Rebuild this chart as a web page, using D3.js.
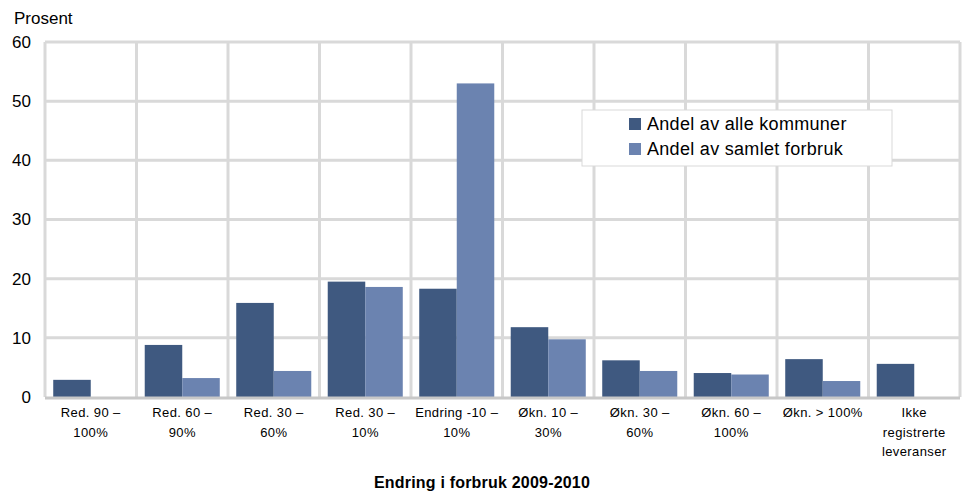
<!DOCTYPE html>
<html>
<head>
<meta charset="utf-8">
<script src="https://cdn.jsdelivr.net/npm/d3@7"></script>
<style>
body { margin: 0; background: #fff; }
text { font-family: "Liberation Sans", Arial, sans-serif; fill: #000; }
</style>
</head>
<body>
<svg id="chart" width="963" height="493"></svg>
<script>
var categories = [
  ["Red. 90 –", "100%"],
  ["Red. 60 –", "90%"],
  ["Red. 30 –", "60%"],
  ["Red. 30 –", "10%"],
  ["Endring -10 –", "10%"],
  ["Økn. 10 –", "30%"],
  ["Økn. 30 –", "60%"],
  ["Økn. 60 –", "100%"],
  ["Økn. > 100%"],
  ["Ikke", "registrerte", "leveranser"]
];
var seriesNames = ["Andel av alle kommuner", "Andel av samlet forbruk"];
var kommuner = [2.9, 8.8, 15.9, 19.5, 18.3, 11.8, 6.2, 4.05, 6.4, 5.6];
var forbruk = [0, 3.2, 4.4, 18.6, 53.0, 9.75, 4.4, 3.8, 2.7, 0];
var yTicks = [0, 10, 20, 30, 40, 50, 60];
var colors = ["#3f5980", "#6b83b0"];

var svg = d3.select("#chart"),
    margin = {top: 42, right: 3, bottom: 96, left: 45},
    width = +svg.attr("width") - margin.left - margin.right,
    height = +svg.attr("height") - margin.top - margin.bottom;

var g = svg.append("g")
    .attr("transform", "translate(" + margin.left + "," + margin.top + ")");

var idx = categories.map(function(d, i) { return i; });
var x = d3.scaleBand().domain(idx).range([0, width]).paddingInner(0.18).paddingOuter(0.09);
var xCell = d3.scaleBand().domain(idx).range([0, width]);
var x1 = d3.scaleBand().domain([0, 1]).range([0, x.bandwidth()]);
var y = d3.scaleLinear().domain([0, 60]).range([height, 0]);

// grid
g.selectAll(".hgrid")
  .data(yTicks.slice(1))
  .enter().append("line")
    .attr("x1", 0).attr("x2", width)
    .attr("y1", function(d) { return y(d); })
    .attr("y2", function(d) { return y(d); })
    .style("stroke", "#d9d9d9")
    .style("stroke-width", "3px");

g.selectAll(".vgrid")
  .data(idx.concat([idx.length]))
  .enter().append("line")
    .attr("x1", function(d) { return d < idx.length ? xCell(d) : width; })
    .attr("x2", function(d) { return d < idx.length ? xCell(d) : width; })
    .attr("y1", 0).attr("y2", height)
    .style("stroke", "#d9d9d9")
    .style("stroke-width", "3px");

// bars
var series = [kommuner, forbruk];
series.forEach(function(vals, s) {
  g.selectAll(".bar" + s)
    .data(vals)
    .enter().append("rect")
      .attr("x", function(d, i) { return x(i) + x1(s); })
      .attr("y", function(d) { return y(d); })
      .attr("width", x1.bandwidth())
      .attr("height", function(d) { return height - y(d); })
      .attr("fill", colors[s]);
});

// x axis line
g.append("line")
  .attr("x1", 0).attr("x2", width)
  .attr("y1", height + 1).attr("y2", height + 1)
  .style("stroke", "#c8c8c8")
  .style("stroke-width", "3px");

// y tick labels
g.selectAll(".ylab")
  .data(yTicks)
  .enter().append("text")
    .attr("x", -14)
    .attr("y", function(d) { return y(d); })
    .attr("dy", "0.35em")
    .attr("text-anchor", "end")
    .style("font-size", "17px")
    .text(function(d) { return d; });

svg.append("text")
  .attr("x", 14).attr("y", 24)
  .style("font-size", "17px")
  .text("Prosent");

// x labels
var xl = g.selectAll(".xlab")
  .data(categories)
  .enter().append("text")
    .attr("text-anchor", "middle")
    .attr("transform", function(d, i) { return "translate(" + (xCell(i) + xCell.bandwidth() / 2) + "," + (height + 20) + ")"; })
    .style("font-size", "13px")
    .style("letter-spacing", "0.4px");
xl.selectAll("tspan")
  .data(function(d) { return d; })
  .enter().append("tspan")
    .attr("x", 0)
    .attr("y", function(d, i) { return i * 19.5; })
    .text(function(d) { return d; });

svg.append("text")
  .attr("x", 482).attr("y", 488)
  .attr("text-anchor", "middle")
  .style("font-size", "16px")
  .style("font-weight", "bold")
  .style("letter-spacing", "0.2px")
  .text("Endring i forbruk 2009-2010");

// legend
var leg = svg.append("g").attr("transform", "translate(582,110)");
leg.append("rect")
  .attr("width", 310).attr("height", 56)
  .attr("fill", "#fff")
  .style("stroke", "#d9d9d9")
  .style("stroke-width", "1px");
var li = leg.selectAll(".li")
  .data(seriesNames)
  .enter().append("g")
    .attr("transform", function(d, i) { return "translate(47," + (14 + i * 25) + ")"; });
li.append("rect")
  .attr("y", -6).attr("width", 12).attr("height", 12)
  .attr("fill", function(d, i) { return colors[i]; });
li.append("text")
  .attr("x", 18).attr("dy", "0.36em")
  .style("font-size", "18px")
  .style("letter-spacing", "0.3px")
  .text(function(d) { return d; });
</script>
</body>
</html>
